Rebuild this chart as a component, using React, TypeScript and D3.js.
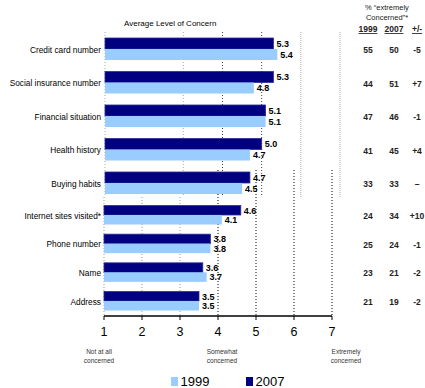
import * as d3 from 'd3';

// the chart is a composite of two pasted pieces, so the top five rows
// and the bottom four rows each get their own scales
const categories = [
  'Credit card number',
  'Social insurance number',
  'Financial situation',
  'Health history',
  'Buying habits',
  'Internet sites visited*',
  'Phone number',
  'Name',
  'Address',
];
const avg1999 = [5.4, 4.8, 5.1, 4.7, 4.5, 4.1, 3.8, 3.7, 3.5];
const avg2007 = [5.3, 5.3, 5.1, 5.0, 4.7, 4.6, 3.8, 3.6, 3.5];
const pct1999 = ['55', '44', '47', '41', '33', '24', '25', '23', '21'];
const pct2007 = ['50', '51', '46', '45', '33', '34', '24', '21', '19'];
const pctChange = ['-5', '+7', '-1', '+4', '–', '+10', '-1', '-2', '-2'];
const axisTicks = [1, 2, 3, 4, 5, 6, 7];
const topGridValues = [1, 3, 4, 5, 6, 7];
const scaleAnchors = [1, 4, 7];
const scaleAnchorLabels = [
  ['Not at all', 'concerned'],
  ['Somewhat', 'concerned'],
  ['Extremely', 'concerned'],
];
const seriesNames = ['1999', '2007'];

const W = 425;
const H = 388;
const LIGHT = '#99ccff';
const DARK = '#000080';
const FONT = '"Liberation Sans", Arial, sans-serif';
const SPLIT = 5;

const xTop = d3.scaleLinear().domain([1, 7]).range([105, 340]);
const xBot = d3.scaleLinear().domain([1, 7]).range([104, 332]);
const yTop = d3.scalePoint().domain(categories.slice(0, SPLIT)).range([49, 183]);
const yBot = d3.scalePoint().domain(categories.slice(SPLIT)).range([215, 301]);

const xFor = (i: number) => (i < SPLIT ? xTop : xBot);
const yFor = (i: number) => (i < SPLIT ? yTop(categories[i])! : yBot(categories[i])!);
const barH = (i: number) => (i < SPLIT ? 11 : 9.5);

const colX = [368, 394, 417];

export default function App() {
  const axisY = 316;
  return (
    <svg
      width={W}
      height={H}
      style={{ position: 'absolute', left: 0, top: 0, background: '#fff' }}
      fontFamily={FONT}
    >
      <rect width={W} height={H} fill="#fff" />

      {/* upper gridlines */}
      {topGridValues.map((v) => (
        <line
          key={'tg' + v}
          x1={xTop(v)}
          x2={xTop(v)}
          y1={32}
          y2={197}
          stroke={v === 4 || v === 5 ? '#444' : '#aaa'}
          strokeDasharray={v >= 6 ? '1,1' : '1,2'}
          strokeWidth={1}
        />
      ))}
      {/* lower gridlines */}
      {axisTicks.map((v) => (
        <line
          key={'bg' + v}
          x1={xBot(v)}
          x2={xBot(v)}
          y1={v >= 4 ? 170 : 197}
          y2={axisY}
          stroke={v >= 4 ? '#000' : '#999'}
          strokeDasharray="1,2"
          strokeWidth={1}
        />
      ))}

      <text x={124} y={26} fontSize={8} fill="#000">
        Average Level of Concern
      </text>

      {categories.map((c, i) => {
        const x = xFor(i);
        const cy = yFor(i);
        const h = barH(i);
        return (
          <g key={c}>
            <text x={101} y={cy + 3.5} fontSize={8.3} textAnchor="end" fill="#000">
              {c}
            </text>
            <rect
              x={x(1)}
              y={cy - h}
              width={x(avg2007[i]) - x(1)}
              height={h}
              fill={DARK}
              stroke="#2b2b9a"
              strokeWidth={0.8}
            />
            <rect x={x(1)} y={cy} width={x(avg1999[i]) - x(1)} height={h} fill={LIGHT} />
            <text x={x(avg2007[i]) + 3} y={cy - h / 2 + 3.3} fontSize={9} fontWeight="bold" fill="#000">
              {avg2007[i].toFixed(1)}
            </text>
            <text x={x(avg1999[i]) + 3} y={cy + h / 2 + 3.3} fontSize={9} fontWeight="bold" fill="#000">
              {avg1999[i].toFixed(1)}
            </text>
            {[pct1999[i], pct2007[i], pctChange[i]].map((t, k) => (
              <text
                key={k}
                x={colX[k]}
                y={cy + 4}
                fontSize={8.5}
                fontWeight="bold"
                textAnchor="middle"
                fill="#222"
              >
                {t}
              </text>
            ))}
          </g>
        );
      })}

      {/* right-hand table header */}
      <text x={387} y={10} fontSize={7.5} textAnchor="middle" fill="#222">
        % “extremely
      </text>
      <text x={387} y={20} fontSize={7.5} textAnchor="middle" fill="#222">
        Concerned”*
      </text>
      {['1999', '2007', '+/-'].map((t, k) => (
        <text
          key={t}
          x={colX[k]}
          y={32}
          fontSize={8.5}
          fontWeight="bold"
          textAnchor="middle"
          textDecoration="underline"
          fill="#222"
        >
          {t}
        </text>
      ))}

      {/* axis */}
      <line x1={xBot(1)} x2={xBot(7)} y1={axisY} y2={axisY} stroke="#000" strokeWidth={1.3} />
      {axisTicks.map((v) => (
        <g key={'t' + v}>
          <line x1={xBot(v)} x2={xBot(v)} y1={axisY} y2={axisY + 4} stroke="#000" strokeWidth={1} />
          <text x={xBot(v)} y={336} fontSize={12.5} textAnchor="middle" fill="#000">
            {v}
          </text>
        </g>
      ))}
      {scaleAnchors.map((v, k) => (
        <text
          key={'a' + v}
          x={xBot(v) + [-5, 4, 14][k]}
          y={354}
          fontSize={6.5}
          textAnchor="middle"
          fill="#333"
        >
          <tspan x={xBot(v) + [-5, 4, 14][k]}>{scaleAnchorLabels[k][0]}</tspan>
          <tspan x={xBot(v) + [-5, 4, 14][k]} dy={8.5}>
            {scaleAnchorLabels[k][1]}
          </tspan>
        </text>
      ))}

      {/* legend */}
      {seriesNames.map((s, k) => (
        <g key={s} transform={`translate(${[171, 246][k]},377)`}>
          <rect width={7} height={9} fill={k === 0 ? LIGHT : DARK} />
          <text x={9.5} y={9} fontSize={13} fill="#000">
            {s}
          </text>
        </g>
      ))}
    </svg>
  );
}
